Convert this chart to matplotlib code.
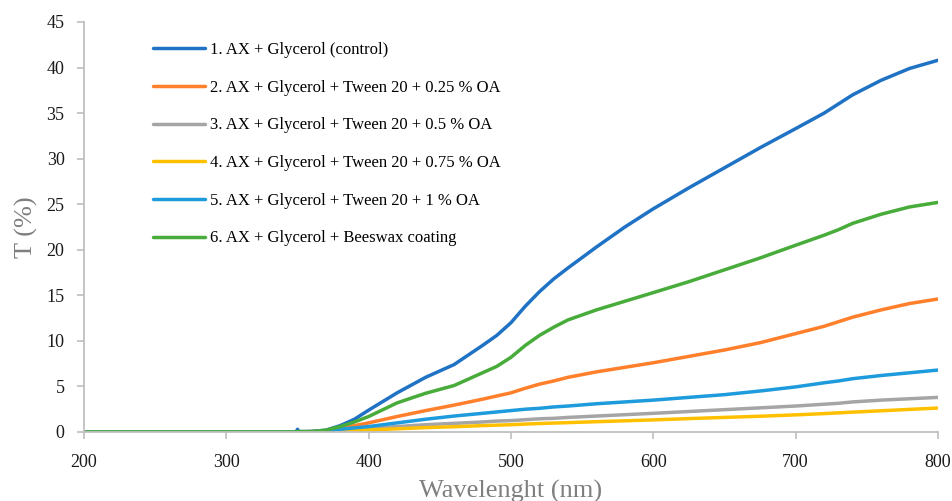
import matplotlib
matplotlib.use("Agg")
import matplotlib.pyplot as plt

wavelength = [200, 250, 300, 349, 350, 351, 360, 370, 380, 390, 400, 420, 440, 460, 480, 490, 500,
              510, 520, 530, 540, 560, 580, 600, 625, 650, 675, 700, 720, 730, 740, 760, 780, 800]

s1_control = [0, 0, 0, 0, 0.3, 0.05, 0.05, 0.2, 0.7, 1.4, 2.4, 4.3, 6.0, 7.4, 9.5, 10.6, 12.0,
              13.8, 15.4, 16.8, 18.0, 20.3, 22.5, 24.5, 26.8, 29.0, 31.2, 33.3, 35.0, 36.0, 37.0, 38.6, 39.9, 40.8]
s2_025 = [0, 0, 0, 0, 0, 0, 0.05, 0.15, 0.4, 0.7, 1.0, 1.7, 2.35, 2.95, 3.6, 3.95, 4.3,
          4.8, 5.25, 5.6, 6.0, 6.6, 7.1, 7.6, 8.3, 9.0, 9.8, 10.8, 11.6, 12.1, 12.6, 13.4, 14.1, 14.6]
s3_05 = [0, 0, 0, 0, 0, 0, 0.03, 0.1, 0.2, 0.3, 0.4, 0.6, 0.8, 0.95, 1.1, 1.2, 1.25,
         1.35, 1.45, 1.5, 1.6, 1.75, 1.9, 2.05, 2.25, 2.45, 2.65, 2.85, 3.05, 3.15, 3.3, 3.5, 3.65, 3.8]
s4_075 = [0, 0, 0, 0, 0, 0, 0.02, 0.07, 0.12, 0.17, 0.22, 0.35, 0.48, 0.58, 0.7, 0.75, 0.8,
          0.87, 0.93, 0.98, 1.03, 1.13, 1.23, 1.33, 1.47, 1.6, 1.73, 1.88, 2.02, 2.1, 2.18, 2.33, 2.48, 2.63]
s5_1 = [0, 0, 0, 0, 0, 0, 0.05, 0.15, 0.3, 0.45, 0.6, 1.0, 1.4, 1.75, 2.05, 2.2, 2.35,
        2.5, 2.6, 2.75, 2.85, 3.1, 3.3, 3.5, 3.8, 4.1, 4.5, 4.95, 5.4, 5.6, 5.85, 6.2, 6.5, 6.8]
s6_beeswax = [0, 0, 0, 0, 0.05, 0.05, 0.05, 0.2, 0.6, 1.1, 1.7, 3.2, 4.25, 5.1, 6.5, 7.2, 8.2,
              9.5, 10.6, 11.5, 12.3, 13.4, 14.35, 15.3, 16.5, 17.8, 19.1, 20.5, 21.6, 22.2, 22.9, 23.9, 24.7, 25.2]

labels = ["1. AX + Glycerol (control)",
          "2. AX + Glycerol + Tween 20 + 0.25 % OA",
          "3. AX + Glycerol + Tween 20 + 0.5 % OA",
          "4. AX + Glycerol + Tween 20 + 0.75 % OA",
          "5. AX + Glycerol + Tween 20 + 1 % OA",
          "6. AX + Glycerol + Beeswax coating"]
series = [s1_control, s2_025, s3_05, s4_075, s5_1, s6_beeswax]
colors = ["#1F72C4", "#FF7F2A", "#A5A5A5", "#FFC000", "#1E9BDC", "#48AC3A"]

xticks = [200, 300, 400, 500, 600, 700, 800]
yticks = [0, 5, 10, 15, 20, 25, 30, 35, 40, 45]

plt.rcParams['font.family'] = ['Liberation Serif', 'DejaVu Serif']

fig = plt.figure(figsize=(9.53, 5.01), dpi=100)
ax = fig.add_axes([84/953, (501-432)/501, (938-84)/953, (432-22)/501])

for vals, lab, col in zip(series, labels, colors):
    ax.plot(wavelength, vals, color=col, lw=2.5, label=lab, solid_capstyle='round')

ax.set_xlim(200, 800)
ax.set_ylim(0, 45)
ax.set_xticks(xticks)
ax.set_yticks(yticks)
ax.tick_params(axis='both', colors='#BFBFBF', labelcolor='#1A1A1A', labelsize=13,
               length=5, width=1.2, direction='out')
ax.tick_params(axis='x', pad=11)
ax.tick_params(axis='y', pad=9)
for side in ['top', 'right']:
    ax.spines[side].set_visible(False)
for side in ['left', 'bottom']:
    ax.spines[side].set_color('#BFBFBF')
    ax.spines[side].set_linewidth(1.3)

ax.set_xlabel("Wavelenght (nm)", color='#7F7F7F', fontsize=19, labelpad=6)
ax.set_ylabel("T (%)", color='#7F7F7F', fontsize=19, labelpad=6)

leg = ax.legend(loc='upper left', bbox_to_anchor=(0.081, 0.951), frameon=False,
                fontsize=12, handlelength=3.1, handletextpad=0.3, labelspacing=1.3,
                borderaxespad=0, borderpad=0)

fig.savefig("out.png", dpi=100)
